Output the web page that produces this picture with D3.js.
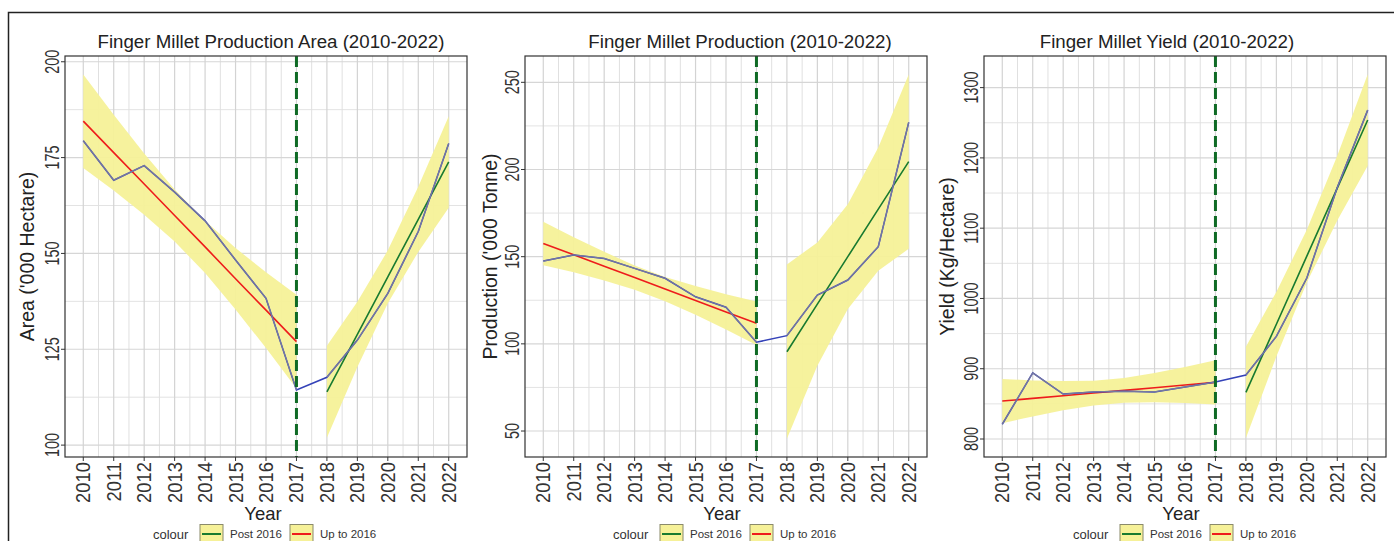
<!DOCTYPE html>
<html>
<head>
<meta charset="utf-8">
<script src="https://cdn.jsdelivr.net/npm/d3@7"></script>
<style>
  body { margin: 0; background: #fff; }
  svg { display: block; font-family: "Liberation Sans", Arial, sans-serif; }
</style>
</head>
<body>
<div id="chart"></div>
<script>
// years on the x axis
const years = [2010, 2011, 2012, 2013, 2014, 2015, 2016, 2017, 2018, 2019, 2020, 2021, 2022];
const upYears = [2010, 2011, 2012, 2013, 2014, 2015, 2016, 2017];
const postYears = [2018, 2019, 2020, 2021, 2022];

// area ('000 ha)
const areaActual = [179.4, 169.1, 172.9, 166.0, 158.5, 148.3, 138.3, 114.4, 117.7, 127.4, 139.6, 155.7, 178.7];
const areaUpFit = [184.5, 176.3, 168.1, 159.9, 151.7, 143.4, 135.2, 127.0];
const areaUpLow = [172.3, 166.4, 160.1, 153.1, 144.9, 135.4, 125.3, 114.8];
const areaUpHigh = [196.7, 186.2, 176.1, 166.7, 158.5, 151.4, 145.1, 139.2];
const areaPostFit = [113.9, 128.9, 143.9, 158.9, 173.9];
const areaPostLow = [101.9, 120.4, 137.0, 150.4, 161.9];
const areaPostHigh = [125.9, 137.4, 150.8, 167.4, 185.8];
const areaTicks = [100, 125, 150, 175, 200];

// production ('000 t)
const prodActual = [147.5, 151.0, 149.0, 143.3, 137.6, 127.0, 121.0, 100.9, 104.7, 128.0, 136.6, 155.7, 227.0];
const prodUpFit = [157.6, 151.1, 144.5, 138.0, 131.4, 124.9, 118.3, 111.8];
const prodUpLow = [145.1, 141.0, 136.3, 131.0, 124.4, 116.7, 108.2, 99.3];
const prodUpHigh = [170.1, 161.2, 152.8, 145.0, 138.4, 133.2, 128.4, 124.3];
const prodPostFit = [95.5, 122.8, 150.0, 177.3, 204.5];
const prodPostLow = [45.5, 87.4, 120.0, 141.9, 154.5];
const prodPostHigh = [145.5, 158.2, 180.0, 212.6, 254.5];
const prodTicks = [50, 100, 150, 200, 250];

// yield (kg/ha)
const yieldActual = [821, 894, 864, 867, 868, 867, 874, 881, 891, 946, 1029, 1158, 1268];
const yieldUpFit = [854, 857.8, 861.6, 865.4, 869.2, 873, 876.8, 880.6];
const yieldUpLow = [822.5, 832.2, 840.8, 847.8, 851.6, 852.2, 851.2, 849.1];
const yieldUpHigh = [885.5, 883.4, 882.4, 883.0, 886.8, 893.8, 902.4, 912.1];
const yieldPostFit = [866.4, 963.3, 1060.2, 1157.1, 1254];
const yieldPostLow = [801.4, 917.3, 1022.7, 1111.1, 1189];
const yieldPostHigh = [931.4, 1009.3, 1097.7, 1203.1, 1319];
const yieldTicks = [800, 900, 1000, 1100, 1200, 1300];

const breakYear = 2017;

const panels = [
    { title: "Finger Millet Production Area (2010-2022)", yLabel: "Area ('000 Hectare)",
      actual: areaActual, upFit: areaUpFit, upLow: areaUpLow, upHigh: areaUpHigh,
      postFit: areaPostFit, postLow: areaPostLow, postHigh: areaPostHigh,
      ticks: areaTicks, domain: [96.9, 201.5] },
    { title: "Finger Millet Production (2010-2022)", yLabel: "Production ('000 Tonne)",
      actual: prodActual, upFit: prodUpFit, upLow: prodUpLow, upHigh: prodUpHigh,
      postFit: prodPostFit, postLow: prodPostLow, postHigh: prodPostHigh,
      ticks: prodTicks, domain: [35.1, 265.1] },
    { title: "Finger Millet Yield (2010-2022)", yLabel: "Yield (Kg/Hectare)",
      actual: yieldActual, upFit: yieldUpFit, upLow: yieldUpLow, upHigh: yieldUpHigh,
      postFit: yieldPostFit, postLow: yieldPostLow, postHigh: yieldPostHigh,
      ticks: yieldTicks, domain: [774.4, 1345] }
];

// layout for each panel
const layout = [
    { left: 65, titleX: 271, yearX: 263, legendX: 153, yTitleOff: 38 },
    { left: 525, titleX: 740, yearX: 722, legendX: 613, yTitleOff: 35 },
    { left: 984, titleX: 1167, yearX: 1181, legendX: 1073, yTitleOff: 37 }
];

const W = 1394, H = 541;
const plotW = 402, plotTop = 56, plotBottom = 457;

const svg = d3.select("#chart")
    .append("svg")
    .attr("width", W)
    .attr("height", H);

// outer frame
svg.append("rect")
    .attr("x", 8.5)
    .attr("y", 12.5)
    .attr("width", W)
    .attr("height", H)
    .attr("fill", "none")
    .attr("stroke", "#222")
    .attr("stroke-width", 1.5);

const ribbonFill = "#f6f198";
const upColor = "#ee1c1c";
const postColor = "#187a30";

panels.forEach((p, i) => {
    const L = layout[i];
    const g = svg.append("g");

    const x = d3.scaleLinear()
        .domain([2009.4, 2022.6])
        .range([L.left, L.left + plotW]);

    const y = d3.scaleLinear()
        .domain(p.domain)
        .range([plotBottom, plotTop]);

    // grid
    const step = p.ticks[1] - p.ticks[0];
    const minorY = p.ticks.map(t => t - step / 2).concat([p.ticks[p.ticks.length - 1] + step / 2])
        .filter(v => v > p.domain[0] && v < p.domain[1]);
    const minorX = years.slice(0, -1).map(t => t + 0.5);

    g.selectAll(".minor-y")
        .data(minorY)
        .enter()
        .append("line")
        .attr("x1", L.left).attr("x2", L.left + plotW)
        .attr("y1", d => y(d)).attr("y2", d => y(d))
        .attr("stroke", "#e3e3e3").attr("stroke-width", 1);

    g.selectAll(".minor-x")
        .data(minorX)
        .enter()
        .append("line")
        .attr("x1", d => x(d)).attr("x2", d => x(d))
        .attr("y1", plotTop).attr("y2", plotBottom)
        .attr("stroke", "#e0e0e0").attr("stroke-width", 1);

    g.selectAll(".major-y")
        .data(p.ticks)
        .enter()
        .append("line")
        .attr("x1", L.left).attr("x2", L.left + plotW)
        .attr("y1", d => y(d)).attr("y2", d => y(d))
        .attr("stroke", "#d6d6d6").attr("stroke-width", 1.2);

    g.selectAll(".major-x")
        .data(years)
        .enter()
        .append("line")
        .attr("x1", d => x(d)).attr("x2", d => x(d))
        .attr("y1", plotTop).attr("y2", plotBottom)
        .attr("stroke", "#d3d3d3").attr("stroke-width", 1.2);

    // confidence ribbons
    const area = d3.area()
        .x(d => x(d.year))
        .y0(d => y(d.lo))
        .y1(d => y(d.hi));

    const upData = upYears.map((yr, k) => ({ year: yr, fit: p.upFit[k], lo: p.upLow[k], hi: p.upHigh[k] }));
    const postData = postYears.map((yr, k) => ({ year: yr, fit: p.postFit[k], lo: p.postLow[k], hi: p.postHigh[k] }));

    g.append("path").datum(upData)
        .attr("fill", ribbonFill).attr("opacity", 0.95)
        .attr("d", area);
    g.append("path").datum(postData)
        .attr("fill", ribbonFill).attr("opacity", 0.95)
        .attr("d", area);

    const fitLine = d3.line()
        .x(d => x(d.year))
        .y(d => y(d.fit));

    g.append("path").datum(upData)
        .attr("fill", "none").attr("stroke", upColor).attr("stroke-width", 1.6)
        .attr("d", fitLine);
    g.append("path").datum(postData)
        .attr("fill", "none").attr("stroke", postColor).attr("stroke-width", 1.6)
        .attr("d", fitLine);

    // actual series
    const actual = years.map((yr, k) => ({ year: yr, v: p.actual[k] }));
    const actLine = d3.line()
        .x(d => x(d.year))
        .y(d => y(d.v));

    g.append("path").datum(actual)
        .attr("fill", "none").attr("stroke", "#3442b8").attr("stroke-width", 1.5)
        .attr("d", actLine);
    g.append("path").datum(actual.filter(d => d.year <= breakYear))
        .attr("fill", "none").attr("stroke", "#80809c").attr("stroke-width", 1.3).attr("opacity", 0.85)
        .attr("d", actLine);
    g.append("path").datum(actual.filter(d => d.year > breakYear))
        .attr("fill", "none").attr("stroke", "#80809c").attr("stroke-width", 1.3).attr("opacity", 0.85)
        .attr("d", actLine);

    // break line
    g.append("line")
        .attr("x1", x(breakYear)).attr("x2", x(breakYear))
        .attr("y1", plotTop).attr("y2", plotBottom)
        .attr("stroke", "#0f6a25").attr("stroke-width", 3)
        .attr("stroke-dasharray", "11,5");

    // panel border
    g.append("rect")
        .attr("x", L.left).attr("y", plotTop)
        .attr("width", plotW).attr("height", plotBottom - plotTop)
        .attr("fill", "none").attr("stroke", "#333").attr("stroke-width", 1.2);

    // x axis ticks + labels
    g.selectAll(".xtick")
        .data(years)
        .enter()
        .append("line")
        .attr("x1", d => x(d)).attr("x2", d => x(d))
        .attr("y1", plotBottom).attr("y2", plotBottom + 4)
        .attr("stroke", "#333").attr("stroke-width", 1);

    g.selectAll(".xlab")
        .data(years)
        .enter()
        .append("text")
        .attr("transform", d => `translate(${x(d)},${plotBottom + 5}) rotate(-90) scale(0.92,1)`)
        .attr("text-anchor", "end")
        .attr("dy", "0.35em")
        .style("font-size", "20px")
        .style("fill", "#333")
        .text(d => d);

    // y axis ticks + labels
    g.selectAll(".ytick")
        .data(p.ticks)
        .enter()
        .append("line")
        .attr("x1", L.left - 4).attr("x2", L.left)
        .attr("y1", d => y(d)).attr("y2", d => y(d))
        .attr("stroke", "#333").attr("stroke-width", 1);

    g.selectAll(".ylab")
        .data(p.ticks)
        .enter()
        .append("text")
        .attr("transform", d => `translate(${L.left - 13},${y(d)}) rotate(-90) scale(0.72,1)`)
        .attr("text-anchor", "middle")
        .attr("dy", "0.35em")
        .style("font-size", "20px")
        .style("fill", "#333")
        .text(d => d);

    // titles
    g.append("text")
        .attr("x", L.titleX).attr("y", 48)
        .attr("text-anchor", "middle")
        .style("font-size", "18.7px")
        .style("fill", "#222")
        .text(p.title);

    g.append("text")
        .attr("x", L.yearX).attr("y", 520)
        .attr("text-anchor", "middle")
        .style("font-size", "18.5px")
        .style("fill", "#222")
        .text("Year");

    g.append("text")
        .attr("transform", `translate(${L.left - L.yTitleOff},${(plotTop + plotBottom) / 2}) rotate(-90)`)
        .attr("text-anchor", "middle")
        .attr("dy", "0.35em")
        .style("font-size", "19.5px")
        .style("fill", "#222")
        .text(p.yLabel);

    // legend
    const lg = g.append("g").attr("transform", `translate(${L.legendX},0)`);
    lg.append("text")
        .attr("x", 0).attr("y", 538.5)
        .style("font-size", "13px")
        .style("fill", "#333")
        .text("colour");

    const keys = [
        { dx: 47, label: "Post 2016", color: postColor },
        { dx: 137, label: "Up to 2016", color: upColor }
    ];
    keys.forEach(k => {
        lg.append("rect")
            .attr("x", k.dx).attr("y", 524.5)
            .attr("width", 23).attr("height", 23)
            .attr("fill", ribbonFill)
            .attr("stroke", "#8a8a6a").attr("stroke-width", 1);
        lg.append("line")
            .attr("x1", k.dx + 2).attr("x2", k.dx + 21)
            .attr("y1", 534).attr("y2", 534)
            .attr("stroke", k.color).attr("stroke-width", 2);
        lg.append("text")
            .attr("x", k.dx + 30).attr("y", 538)
            .style("font-size", "11.5px")
            .style("fill", "#333")
            .text(k.label);
    });
});
</script>
</body>
</html>
